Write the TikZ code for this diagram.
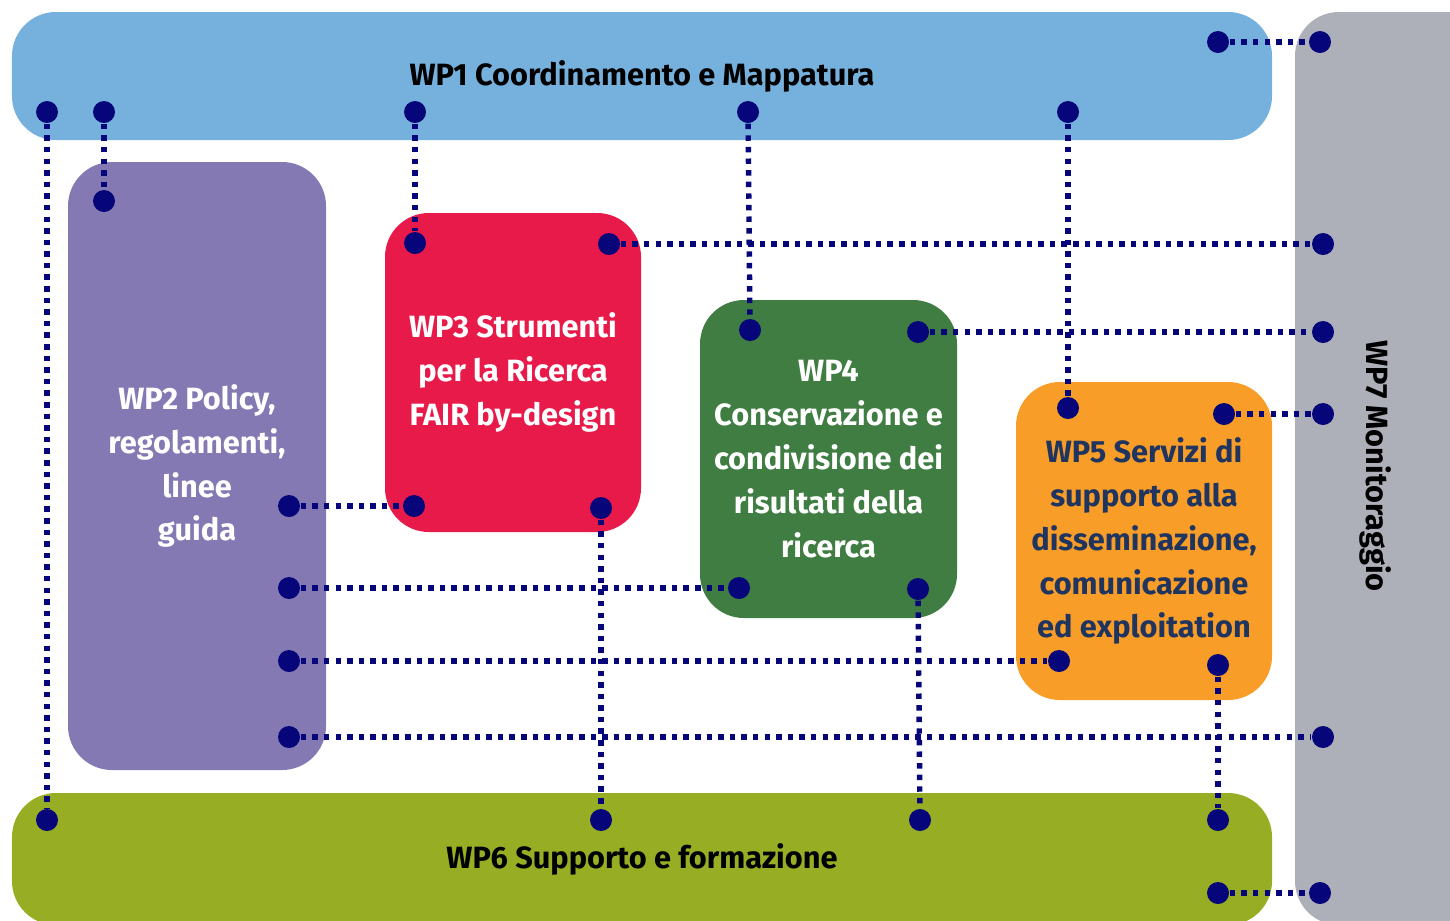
\documentclass[tikz,border=0pt]{standalone}
\usepackage{fontspec}
\setmainfont{Fira Sans}
\usepackage{xcolor}
\definecolor{wpblue}{HTML}{76B1DE}
\definecolor{wpgray}{HTML}{AEB0B9}
\definecolor{wppurple}{HTML}{8579B4}
\definecolor{wpred}{HTML}{E71A4A}
\definecolor{wpgreen}{HTML}{3F7D42}
\definecolor{wporange}{HTML}{F89D27}
\definecolor{wpolive}{HTML}{97AD24}
\definecolor{navy}{HTML}{06067A}
\definecolor{darktext}{HTML}{1F3560}
\tikzset{
  wpbox/.style={draw=none, rounded corners=12.5pt, inner sep=0pt, align=center,
    font=\bfseries\fontsize{8.75}{12.5}\selectfont},
  dot/.style={circle, fill=navy, inner sep=0pt, minimum size=0.22cm},
  link/.style={navy, line width=1.55pt, dash pattern=on 1.55pt off 1.75pt}
}

\begin{document}
\begin{tikzpicture}
	\clip (0,0) rectangle (14.5,-9.2);
	% work packages
	\node (wp7) [wpbox, fill=wpgray, minimum width=2.05cm, minimum height=9.13cm] at (13.975,-4.685) {};
	\node (wp7t) [wpbox, rotate=-90] at (13.76,-4.66) {WP7 Monitoraggio};
	\node (wp1) [wpbox, fill=wpblue, minimum width=12.6cm, minimum height=1.28cm] at (6.42,-0.76) {\raisebox{-0.8pt}{WP1 Coordinamento e Mappatura}};
	\node (wp6) [wpbox, fill=wpolive, minimum width=12.6cm, minimum height=1.32cm] at (6.42,-8.59) {WP6 Supporto e formazione};
	\node (wp2) [wpbox, fill=wppurple, text=white, minimum width=2.58cm, minimum height=6.08cm] at (1.97,-4.66) {WP2 Policy,\\regolamenti,\\linee\\guida};
	\node (wp3) [wpbox, fill=wpred, text=white, minimum width=2.56cm, minimum height=3.19cm] at (5.13,-3.725) {WP3 Strumenti\\per la Ricerca\\FAIR by-design};
	\node (wp4) [wpbox, fill=wpgreen, text=white, minimum width=2.57cm, minimum height=3.18cm] at (8.285,-4.59) {WP4\\Conservazione e\\condivisione dei\\risultati della\\ricerca};
	\node (wp5) [wpbox, fill=wporange, text=darktext, minimum width=2.56cm, minimum height=3.18cm] at (11.44,-5.41) {WP5 Servizi di\\supporto alla\\disseminazione,\\comunicazione\\ed exploitation};

	% dots
	\node (a1) [dot] at (12.18,-0.42) {};
	\node (a2) [dot] at (13.20,-0.42) {};
	\node (b1) [dot] at (0.47,-1.12) {};
	\node (b2) [dot] at (0.47,-8.20) {};
	\node (c1) [dot] at (1.04,-1.12) {};
	\node (c2) [dot] at (1.04,-2.01) {};
	\node (d1) [dot] at (4.15,-1.12) {};
	\node (d2) [dot] at (4.15,-2.43) {};
	\node (e1) [dot] at (7.48,-1.12) {};
	\node (e2) [dot] at (7.50,-3.30) {};
	\node (f1) [dot] at (10.68,-1.12) {};
	\node (f2) [dot] at (10.68,-4.08) {};
	\node (g1) [dot] at (6.09,-2.44) {};
	\node (g2) [dot] at (13.23,-2.44) {};
	\node (h1) [dot] at (9.18,-3.32) {};
	\node (h2) [dot] at (13.23,-3.32) {};
	\node (i1) [dot] at (12.24,-4.14) {};
	\node (i2) [dot] at (13.23,-4.14) {};
	\node (j1) [dot] at (2.89,-5.06) {};
	\node (j2) [dot] at (4.14,-5.06) {};
	\node (k1) [dot] at (6.01,-5.08) {};
	\node (k2) [dot] at (6.01,-8.20) {};
	\node (l1) [dot] at (2.89,-5.88) {};
	\node (l2) [dot] at (7.39,-5.88) {};
	\node (m1) [dot] at (9.18,-5.89) {};
	\node (m2) [dot] at (9.20,-8.20) {};
	\node (n1) [dot] at (2.89,-6.61) {};
	\node (n2) [dot] at (10.59,-6.61) {};
	\node (o1) [dot] at (12.18,-6.65) {};
	\node (o2) [dot] at (12.18,-8.20) {};
	\node (p1) [dot] at (2.89,-7.37) {};
	\node (p2) [dot] at (13.23,-7.37) {};
	\node (q1) [dot] at (12.18,-8.93) {};
	\node (q2) [dot] at (13.20,-8.93) {};

	% links
	\foreach \s in {a,b,c,d,e,f,g,h,i,j,k,l,m,n,o,p,q}
		\draw[link] (\s1) -- (\s2);
\end{tikzpicture}
\end{document}
